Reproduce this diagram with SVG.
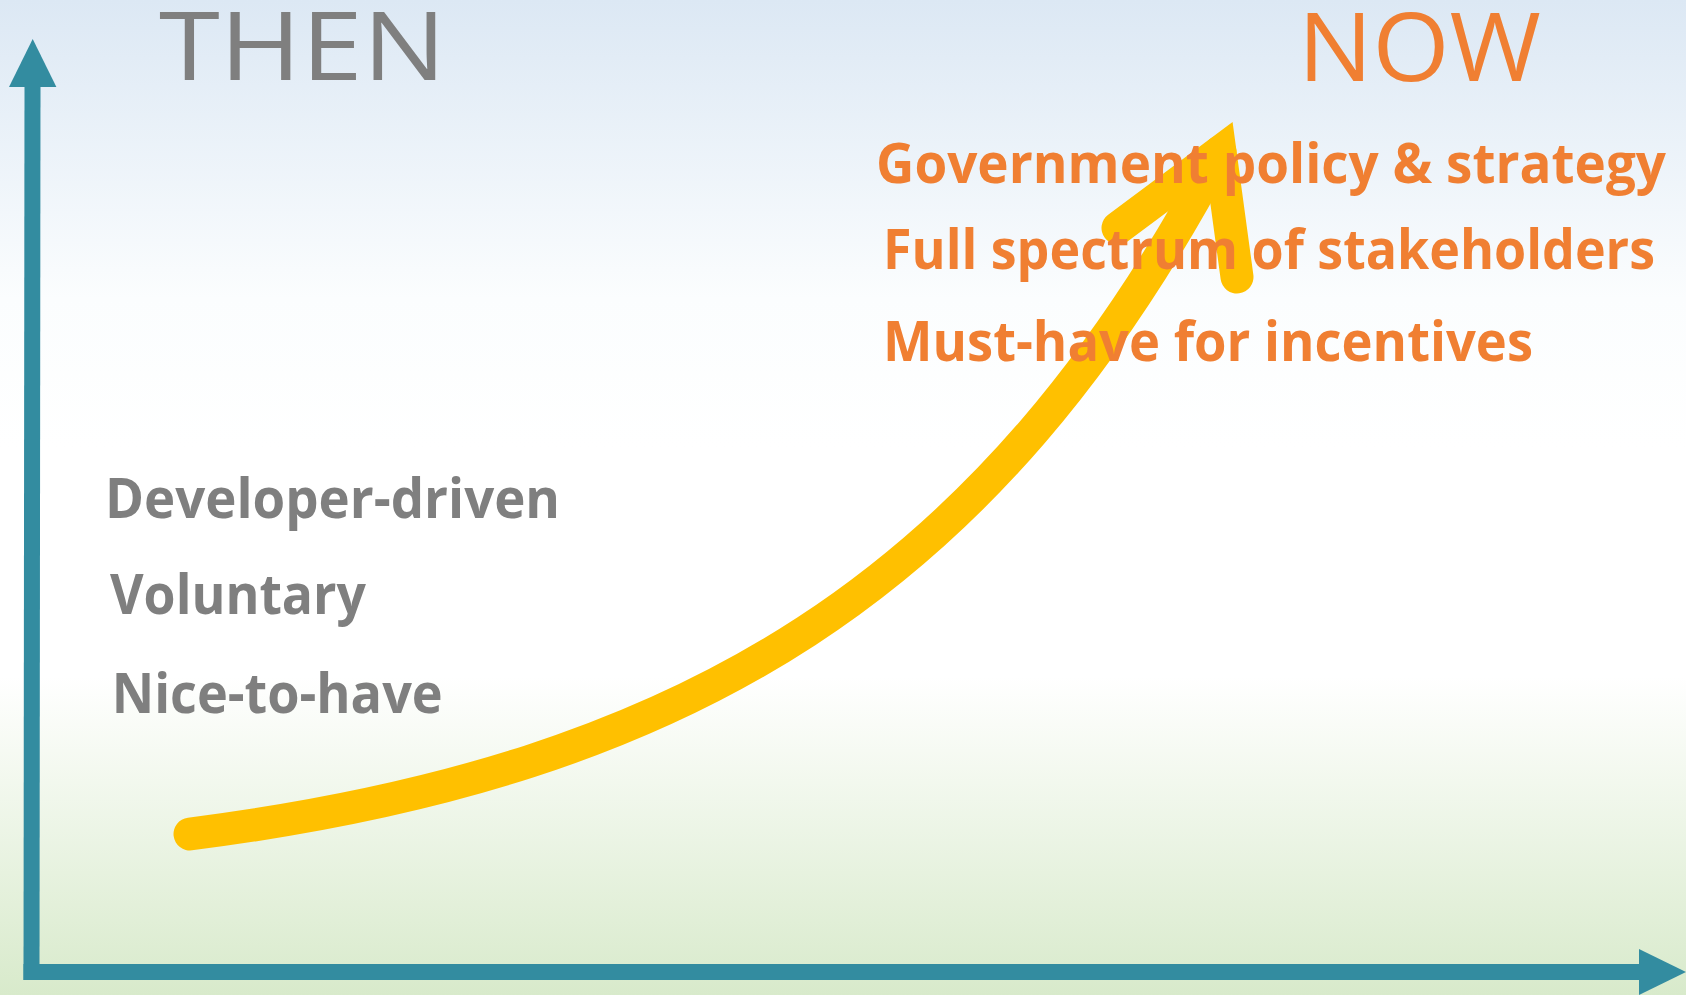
<svg xmlns="http://www.w3.org/2000/svg" width="1686" height="995" viewBox="0 0 1686 995">
<defs>
<linearGradient id="bg" x1="0" y1="0" x2="0" y2="1">
<stop offset="0" stop-color="#dce8f4"/>
<stop offset="0.3" stop-color="#fbfdfe"/>
<stop offset="0.45" stop-color="#ffffff"/>
<stop offset="0.68" stop-color="#ffffff"/>
<stop offset="1" stop-color="#d8eacb"/>
</linearGradient>
<style>
.axis{stroke:#338ca0;fill:none}
.ahead{fill:#338ca0}
.big{font-family:"Open Sans","Liberation Sans",sans-serif;font-weight:400;font-size:95px}
.lbl{font-family:"Open Sans","Liberation Sans",sans-serif;font-weight:700;font-size:56px}
.gray{fill:#7f7f7f}
.orange{fill:#f07f32}
.curve{stroke:#ffc000;stroke-width:33;fill:none;stroke-linecap:round}
</style>
</defs>
<rect x="0" y="0" width="1686" height="995" fill="url(#bg)"/>
<g id="connectors">
<line class="axis" x1="32.5" y1="84" x2="31.5" y2="980" stroke-width="16"/>
<polygon class="ahead" points="9,87 32.7,39 56.4,87"/>
<line class="axis" x1="23.5" y1="972" x2="1641" y2="972" stroke-width="16"/>
<polygon class="ahead" points="1639,949 1686,972 1639,995"/>
<path id="growth-curve" class="curve" d="M190,834 C690,770 990,585 1220,152"/>
<polyline class="curve" points="1118,228 1220,152 1237,277" stroke-linejoin="miter" stroke-miterlimit="10"/>
</g>
<g id="then-title"><text class="big gray" x="159" y="80" textLength="287" lengthAdjust="spacingAndGlyphs">THEN</text></g>
<g id="now-title"><text class="big orange" x="1298" y="80.7" textLength="243" lengthAdjust="spacingAndGlyphs">NOW</text></g>
<g id="then-items">
<text class="lbl gray" x="105" y="518" textLength="455" lengthAdjust="spacingAndGlyphs">Developer-driven</text>
<text class="lbl gray" x="110" y="614" textLength="256" lengthAdjust="spacingAndGlyphs">Voluntary</text>
<text class="lbl gray" x="111.7" y="713" textLength="331" lengthAdjust="spacingAndGlyphs">Nice-to-have</text>
</g>
<g id="now-items">
<text class="lbl orange" x="876" y="182.7" textLength="790" lengthAdjust="spacingAndGlyphs">Government policy &amp; strategy</text>
<text class="lbl orange" x="883" y="269.3" textLength="772" lengthAdjust="spacingAndGlyphs">Full spectrum of stakeholders</text>
<text class="lbl orange" x="883" y="360.7" textLength="650" lengthAdjust="spacingAndGlyphs">Must-have for incentives</text>
</g>
</svg>
